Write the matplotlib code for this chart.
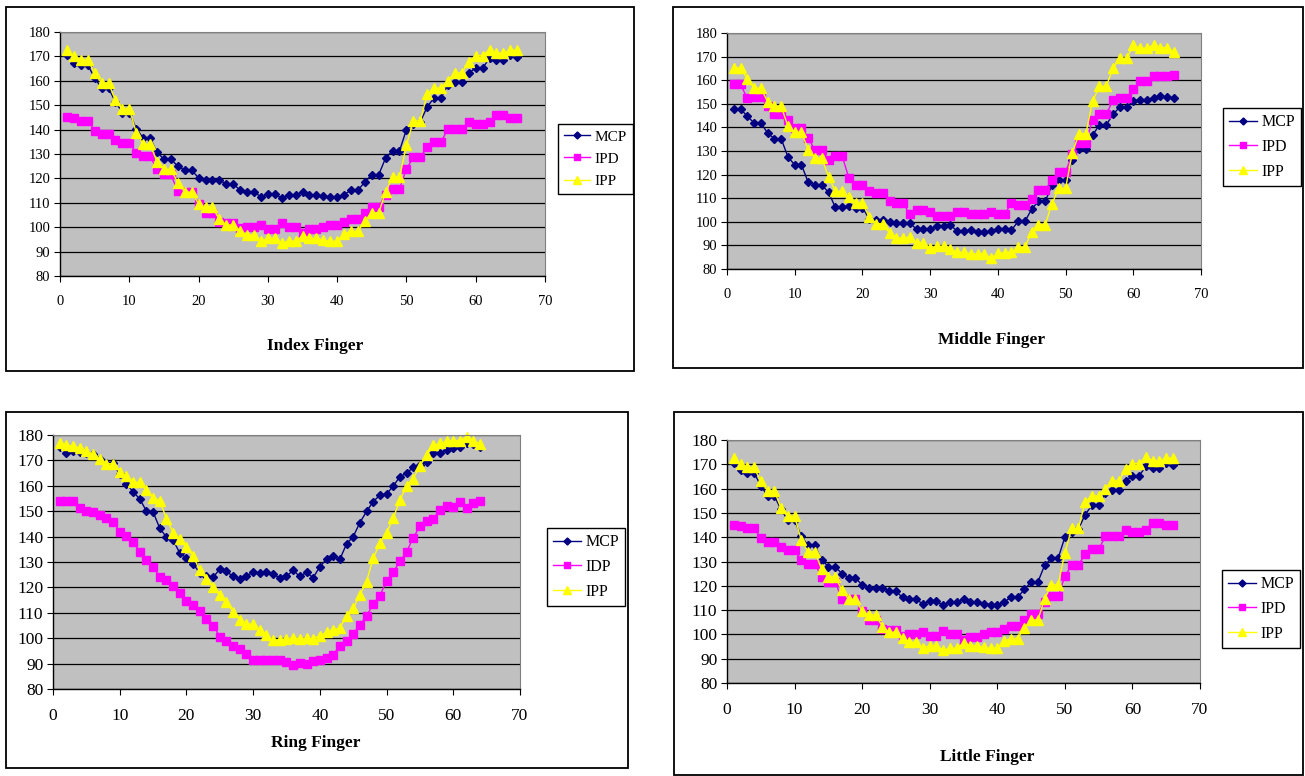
import matplotlib
matplotlib.use("Agg")
import matplotlib.pyplot as plt
from matplotlib.patches import Rectangle

# Canvas in pixels
W, H = 1305, 776

# Style
COLOR_MCP = "#000080"
COLOR_IPD = "#FF00FF"
COLOR_IPP = "#FFFF00"
COLOR_BG = "#C0C0C0"
plt.rcParams["font.family"] = ["Liberation Serif", "DejaVu Serif"]

# ---------------- data ----------------
X_66 = list(range(1, 67))
X_64 = list(range(1, 65))

INDEX_MCP = [170.7, 167.5, 166.5, 166.5, 161.2, 157.0, 157.0, 151.4, 147.0, 147.0,
             140.4, 136.6, 136.6, 130.7, 127.9, 127.9, 125.0, 123.4, 123.4, 120.2,
             119.3, 119.3, 119.3, 117.7, 117.7, 115.2, 114.4, 114.4, 112.5, 113.6,
             113.6, 111.9, 113.3, 113.3, 114.4, 113.3, 113.3, 112.7, 112.3, 112.3,
             113.3, 115.2, 115.2, 118.5, 121.5, 121.5, 128.4, 131.3, 131.3, 140.0,
             142.2, 143.2, 149.3, 153.1, 153.1, 158.3, 159.4, 159.4, 163.1, 165.3,
             165.3, 169.2, 168.5, 168.5, 170.5, 169.6]
INDEX_IPD = [145.2, 144.8, 143.7, 143.7, 139.6, 138.0, 138.0, 135.9, 134.6, 134.6,
             130.5, 129.0, 129.0, 123.7, 121.6, 121.6, 114.7, 114.4, 114.4, 109.6,
             105.9, 105.9, 102.2, 101.8, 101.8, 99.5, 100.2, 100.2, 101.1, 99.2,
             99.2, 101.6, 100.2, 100.2, 97.7, 99.1, 99.1, 100.2, 101.0, 101.0,
             102.1, 103.5, 103.5, 105.9, 108.4, 108.4, 113.2, 115.7, 115.7, 123.9,
             128.6, 128.6, 132.9, 135.0, 135.0, 140.3, 140.3, 140.3, 143.0, 142.1,
             142.1, 143.0, 145.8, 145.8, 144.9, 144.9]
INDEX_IPP = [172.5, 170.0, 168.7, 168.7, 163.0, 159.1, 159.1, 152.0, 148.6, 148.6,
             138.8, 134.0, 134.0, 126.8, 123.7, 123.7, 118.3, 114.4, 114.4, 109.6,
             108.1, 108.1, 103.2, 100.9, 100.9, 98.6, 96.8, 96.8, 94.3, 95.4,
             95.4, 93.4, 94.3, 94.3, 96.4, 95.4, 95.4, 94.7, 94.2, 94.2,
             97.2, 98.3, 98.3, 102.6, 105.9, 105.9, 114.5, 120.4, 120.4, 133.5,
             143.6, 143.6, 154.5, 157.0, 157.0, 160.0, 163.2, 163.2, 167.9, 170.3,
             170.3, 172.8, 171.4, 171.4, 172.5, 172.5]

MIDDLE_MCP = [147.8, 147.8, 144.7, 141.9, 141.9, 137.6, 135.2, 135.2, 127.5, 124.1,
              124.1, 116.7, 115.6, 115.6, 112.5, 106.1, 106.1, 106.6, 106.0, 106.0,
              101.3, 100.8, 100.8, 99.8, 99.5, 99.5, 99.5, 96.8, 96.8, 97.1,
              98.1, 98.1, 98.5, 96.1, 96.1, 96.4, 95.5, 95.5, 96.0, 97.1,
              97.1, 96.4, 100.2, 100.2, 105.4, 108.7, 108.7, 115.6, 117.8, 117.8,
              126.3, 130.8, 130.8, 136.8, 141.0, 141.0, 145.5, 148.6, 148.6, 151.2,
              151.8, 151.8, 152.6, 153.2, 152.9, 152.3]
MIDDLE_IPD = [158.2, 158.2, 152.3, 152.9, 152.9, 148.9, 145.5, 145.5, 143.3, 139.9,
              139.9, 135.5, 130.3, 130.3, 126.0, 128.0, 128.0, 118.5, 115.5, 115.5,
              113.2, 112.3, 112.3, 108.8, 107.8, 107.8, 103.3, 105.1, 105.1, 104.0,
              102.3, 102.3, 102.3, 104.0, 104.0, 103.2, 103.2, 103.2, 104.0, 103.2,
              103.2, 108.0, 107.2, 107.2, 109.8, 113.6, 113.6, 117.8, 121.2, 121.2,
              128.6, 133.6, 133.6, 143.3, 145.5, 145.5, 151.5, 152.3, 152.3, 156.3,
              159.5, 159.5, 161.6, 161.6, 161.6, 162.2]
MIDDLE_IPP = [165.2, 165.2, 160.5, 156.6, 156.6, 150.9, 148.9, 148.9, 140.5, 137.9,
              137.9, 130.6, 127.0, 127.0, 119.0, 112.9, 112.9, 110.5, 108.0, 108.0,
              102.0, 99.2, 99.2, 95.2, 93.1, 93.1, 93.6, 91.0, 91.0, 88.8,
              89.6, 89.6, 88.5, 87.1, 87.1, 86.4, 86.4, 86.4, 84.5, 86.8,
              86.8, 87.1, 89.2, 89.2, 95.8, 98.8, 98.8, 107.7, 114.2, 114.2,
              129.2, 137.4, 137.4, 151.2, 157.4, 157.4, 165.0, 169.3, 169.3, 174.8,
              173.5, 173.5, 174.9, 173.8, 173.8, 172.1]

RING_MCP = [175.4, 173.1, 173.7, 173.4, 172.8, 172.4, 170.7, 168.9, 168.9, 164.5,
            160.7, 157.7, 154.8, 150.1, 149.7, 143.3, 139.8, 138.7, 133.5, 131.6,
            129.3, 125.6, 124.3, 124.0, 127.2, 126.3, 124.3, 123.3, 124.6, 125.9,
            125.6, 125.9, 125.2, 123.7, 124.4, 126.7, 124.3, 125.9, 123.8, 128.2,
            131.1, 132.2, 131.1, 137.1, 140.0, 145.5, 149.9, 153.8, 156.3, 156.8,
            159.9, 163.6, 164.9, 167.3, 168.1, 169.5, 172.8, 173.1, 174.1, 174.9,
            175.4, 177.0, 176.5, 175.4]
RING_IDP = [154.2, 154.2, 153.9, 151.2, 150.1, 149.7, 148.5, 147.2, 145.9, 142.0,
            140.3, 137.9, 134.1, 130.6, 128.0, 124.0, 122.9, 120.4, 117.7, 114.5,
            112.9, 110.8, 107.7, 105.0, 100.6, 98.9, 96.8, 95.7, 93.8, 91.3,
            91.3, 91.3, 91.3, 91.3, 90.5, 89.3, 90.4, 90.0, 90.9, 91.5,
            92.1, 93.4, 97.0, 98.9, 101.6, 105.3, 108.8, 113.4, 116.8, 122.5,
            126.0, 130.2, 134.0, 139.6, 144.0, 146.3, 147.0, 150.5, 152.2, 151.8,
            153.7, 151.3, 153.4, 154.2]
RING_IPP = [177.0, 175.9, 175.7, 174.9, 173.8, 172.4, 170.6, 168.7, 168.7, 165.5,
            163.9, 161.5, 161.3, 158.4, 155.2, 154.2, 147.1, 141.6, 139.2, 136.1,
            132.4, 126.7, 123.3, 120.1, 117.0, 114.2, 110.4, 107.3, 105.7, 105.4,
            103.3, 101.4, 99.1, 99.4, 99.8, 100.2, 99.8, 99.9, 99.8, 101.0,
            102.3, 103.3, 104.0, 108.8, 111.7, 117.1, 122.3, 131.5, 137.4, 141.6,
            147.2, 154.4, 159.9, 162.8, 167.9, 172.3, 175.9, 176.7, 177.5, 177.8,
            177.8, 179.3, 177.8, 176.5]

# Little finger chart shows the same readings as the index finger chart
LITTLE_MCP = INDEX_MCP
LITTLE_IPD = INDEX_IPD
LITTLE_IPP = INDEX_IPP

X_TICKS = [0, 10, 20, 30, 40, 50, 60, 70]
Y_TICKS = [80, 90, 100, 110, 120, 130, 140, 150, 160, 170, 180]


def px_rect(left, top, right, bottom):
    # pixel box (origin top-left) -> figure fraction [l, b, w, h]
    return [left / W, 1 - bottom / H, (right - left) / W, (bottom - top) / H]


def draw_panel(fig, box, plot, legend_pos, title_pos, x, series, labels, title,
               tick_size, legend_size):
    # Outer border of the chart object
    l, t, r, b = box
    fig.patches.append(Rectangle((l / W, 1 - b / H), (r - l) / W, (b - t) / H,
                                 transform=fig.transFigure, fill=False,
                                 edgecolor="black", lw=1.3, zorder=0))

    ax = fig.add_axes(px_rect(*plot))
    ax.set_facecolor(COLOR_BG)
    ax.set_xlim(0, 70)
    ax.set_ylim(80, 180)
    ax.set_xticks(X_TICKS)
    ax.set_yticks(Y_TICKS)
    ax.yaxis.grid(True, color="black", lw=0.9)
    ax.set_axisbelow(True)
    for side in ["top", "right"]:
        ax.spines[side].set_color("#808080")
    for side in ["left", "bottom"]:
        ax.spines[side].set_color("black")
        ax.spines[side].set_linewidth(1.0)
    ax.tick_params(axis="x", direction="out", length=4, pad=10, labelsize=tick_size)
    ax.tick_params(axis="y", direction="out", length=4, pad=3, labelsize=tick_size)

    mcp, ipd, ipp = series
    h1, = ax.plot(x, mcp, color=COLOR_MCP, lw=1, marker="D", ms=4.2, clip_on=False)
    h2, = ax.plot(x, ipd, color=COLOR_IPD, lw=1, marker="s", ms=5.5, clip_on=False)
    h3, = ax.plot(x, ipp, color=COLOR_IPP, lw=1, marker="^", ms=6.5, clip_on=False)

    leg = fig.legend([h1, h2, h3], labels, loc="center left",
                     bbox_to_anchor=(legend_pos[0] / W, 1 - legend_pos[1] / H),
                     fontsize=legend_size, frameon=True, fancybox=False,
                     edgecolor="black", framealpha=1, borderpad=0.4,
                     handlelength=1.7, handletextpad=0.3, labelspacing=0.55,
                     borderaxespad=0, markerscale=0.85)
    leg.get_frame().set_linewidth(1.0)

    fig.text(title_pos[0] / W, 1 - title_pos[1] / H, title, ha="center",
             va="center", fontsize=12.5, fontweight="bold")


def main():
    fig = plt.figure(figsize=(W / 100, H / 100), dpi=100)

    draw_panel(fig, (6, 7, 634, 371), (60, 32, 545, 276), (558, 159), (315, 346),
               X_66, (INDEX_MCP, INDEX_IPD, INDEX_IPP), ["MCP", "IPD", "IPP"],
               "Index Finger", 10.5, 11)
    draw_panel(fig, (673, 7, 1303, 368), (727, 33, 1201, 269), (1223, 147), (992, 340),
               X_66, (MIDDLE_MCP, MIDDLE_IPD, MIDDLE_IPP), ["MCP", "IPD", "IPP"],
               "Middle Finger", 10.5, 11.5)
    draw_panel(fig, (6, 412, 628, 768), (53, 435, 520, 689), (547, 567), (316, 743),
               X_64, (RING_MCP, RING_IDP, RING_IPP), ["MCP", "IDP", "IPP"],
               "Ring Finger", 12.5, 11.5)
    draw_panel(fig, (674, 412, 1303, 775), (727, 440, 1200, 683), (1222, 609), (987, 757),
               X_66, (LITTLE_MCP, LITTLE_IPD, LITTLE_IPP), ["MCP", "IPD", "IPP"],
               "Little Finger", 12.5, 11.5)

    fig.savefig("out.png", dpi=100)
    plt.close(fig)


if __name__ == "__main__":
    main()
